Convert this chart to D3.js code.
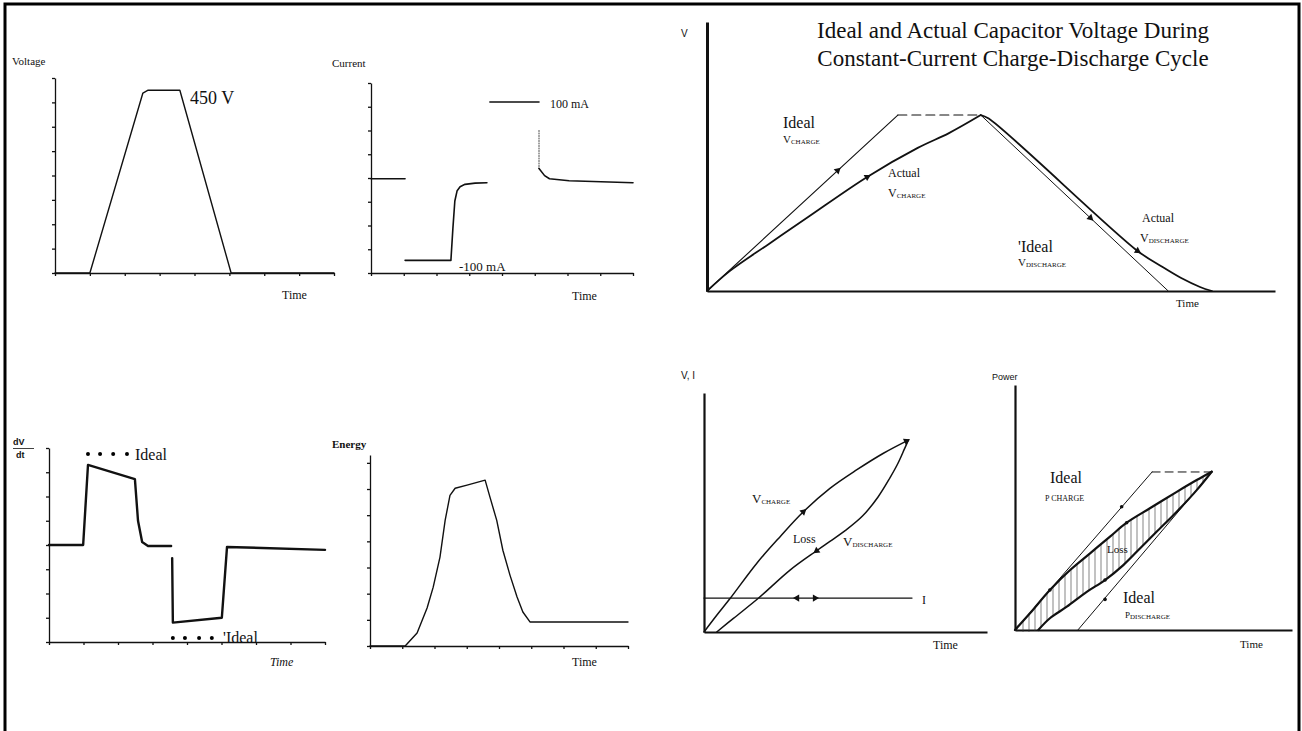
<!DOCTYPE html>
<html>
<head>
<meta charset="utf-8">
<script src="https://cdn.jsdelivr.net/npm/d3@7"></script>
<style>
  body { margin: 0; background: #fff; }
  svg { display: block; font-family: "Liberation Serif", "Times New Roman", serif; fill: #111; }
  .trace { fill: none; stroke: #111; stroke-linejoin: round; stroke-linecap: round; }
  .axis path, .axis line { stroke: #111; }
  .sans { font-family: "Liberation Sans", Arial, sans-serif; }
</style>
</head>
<body>
<div id="chart"></div>
<script>
// ---------- data (time in axis divisions / percent of axis, values in panel units) ----------

// Voltage panel
const voltTime = [0, 1, 2.52, 2.67, 3.58, 5.05, 8];
const voltValue = [0, 0, 443, 450, 450, 0, 0];

// Current panel (NaN = break in trace)
const currTime = [0, 1.04, NaN, 1.04, 2.44, 2.5, 2.56, 2.63, 2.72, 2.87, 3.18, 3.54, NaN, 3.63, 5.13, NaN, 5.13, 5.3, 5.45, 6.05, 8];
const currValue = [3, 3, NaN, -100, -100, -60, -25, -12, -7, -4, -2.5, -2, NaN, 100, 100, NaN, 16, 7, 3, 0.5, -2];
const currDropTime = [5.13, 5.13];
const currDropValue = [64, 16];

// dV/dt panel
const dvdtTime = [0, 0.99, 1.13, 2.49, 2.58, 2.70, 2.87, 3.54, NaN, 3.57, 3.59, 5.01, 5.16, 8];
const dvdtValue = [0, 0, 3.3, 2.72, 1.0, 0.12, -0.04, -0.04, NaN, -0.54, -3.2, -3.0, -0.08, -0.2];
const idealDotTime = [1.13, 1.48, 1.86, 2.26, 3.59, 3.94, 4.35, 4.72];
const idealDotValue = [3.75, 3.75, 3.75, 3.75, -3.83, -3.83, -3.83, -3.83];

// Energy panel
const energyTime = [0, 1.09, 1.46, 1.77, 1.96, 2.17, 2.33, 2.48, 2.64, 3.01, 3.57, 3.72, 3.93, 4.12, 4.34, 4.56, 4.74, 4.96, 8];
const energyValue = [0, 0, 0.5, 1.45, 2.25, 3.4, 4.8, 5.76, 6.03, 6.15, 6.34, 5.69, 4.8, 3.66, 2.71, 1.87, 1.3, 0.92, 0.92];

// Ideal vs actual capacitor voltage
const idealChargeT = [0, 33.6];
const idealChargeV = [0, 65.4];
const idealFlatT = [33.6, 48.2];
const idealFlatV = [65.4, 65.4];
const idealDischT = [48.2, 81.2];
const idealDischV = [65.4, 0];
const actualChargeT = [0, 4.0, 10.9, 17.8, 28.2, 37.1, 42.6, 48.2];
const actualChargeV = [0, 7.4, 17.5, 27.5, 42.4, 53.2, 58.7, 65.4];
const actualDischT = [48.2, 49.6, 75.8, 79.9, 83.4, 86.8, 88.9];
const actualDischV = [65.4, 64.1, 14.9, 9.3, 4.9, 1.5, 0];
const capArrows = [[23, 44.8, 33.6, 65.4], [28.2, 42.4, 37.1, 53.2], [67.5, 27.2, 81.2, 0], [75.8, 14.9, 79.9, 9.3]];

// V, I panel
const iLevelT = [0, 73.5];
const iLevelV = [14.2, 14.2];
const vChargeT = [0, 4.5, 9.2, 18.6, 26.9, 35.1, 44.5, 53.9, 63.4, 72.2];
const vChargeV = [0, 7, 14, 28.7, 39.9, 50.3, 60.1, 67.8, 74.8, 80.3];
const vDischT = [72.2, 70.8, 68.5, 65.7, 61.5, 56, 50, 44.5, 39.8, 30.4, 19.2, 10.4, 4.5];
const vDischV = [80.3, 76.5, 70.5, 64.5, 56.5, 48.5, 42.5, 37.9, 34.0, 25.9, 14.1, 5.7, 0];
const viArrows = [[71.5, 79.9, 72.2, 80.3], [35.1, 50.3, 44.5, 60.1], [39.8, 34.0, 30.4, 25.9], [32.9, 14.2, 0, 14.2], [39.2, 14.2, 73.5, 14.2]];

// Power panel
const pIdealChargeT = [0, 49.5];
const pIdealChargeV = [0, 64.5];
const pIdealFlatT = [49.5, 71.1];
const pIdealFlatV = [64.5, 64.5];
const pIdealDischT = [71.1, 22.7];
const pIdealDischV = [64.5, 0];
const pChargeT = [0, 5.4, 12.6, 19.9, 27.1, 34.3, 40.3, 48.7, 58.4, 65.6, 71];
const pChargeV = [0, 6.8, 16.3, 24.5, 31.3, 38.1, 43.8, 49.7, 56.4, 61.2, 64.6];
const pDischT = [71, 65.6, 58.4, 51.1, 45.1, 39.1, 32.5, 25.9, 18.7, 12.6, 8.4];
const pDischV = [64.6, 57.1, 48.3, 40.1, 33.3, 26.5, 20.4, 15.6, 9.5, 4.8, 0];
const pDotT = [38.5, 40.3, 32.5, 32.5, 12.6];
const pDotV = [50.3, 43.8, 20.4, 12.5, 16.3];

// ---------- drawing ----------

const svg = d3.select("#chart").append("svg")
    .attr("width", 1302)
    .attr("height", 731);

// hatch used for the loss region
svg.append("defs").append("pattern")
    .attr("id", "hatch")
    .attr("patternUnits", "userSpaceOnUse")
    .attr("width", 6)
    .attr("height", 6)
    .append("line")
    .attr("x1", 3).attr("y1", 0).attr("x2", 3).attr("y2", 6)
    .style("stroke", "#333")
    .style("stroke-width", 0.6);

// page frame
svg.append("rect")
    .attr("x", 5).attr("y", 4)
    .attr("width", 1294).attr("height", 800)
    .style("fill", "none")
    .style("stroke", "#000")
    .style("stroke-width", 3);

const pairs = (xs, ys) => xs.map((x, i) => [x, ys[i]]);

// A panel with its own scales and two bare axes.
function makePanel(box, xDomain, yDomain, xTicks, yTicks, axisWidth) {
    const x = d3.scaleLinear().domain(xDomain).range([box.left, box.right]);
    const y = d3.scaleLinear().domain(yDomain).range([box.bottom, box.top]);
    const g = svg.append("g");

    g.append("g")
        .attr("class", "axis")
        .attr("transform", "translate(0," + box.bottom + ")")
        .call(d3.axisBottom(x).tickValues(xTicks).tickSize(3).tickSizeOuter(0).tickFormat(""))
        .selectAll("path, line").style("stroke-width", axisWidth[0]);

    g.append("g")
        .attr("class", "axis")
        .attr("transform", "translate(" + box.left + ",0)")
        .call(d3.axisLeft(y).tickValues(yTicks).tickSize(3).tickSizeOuter(0).tickFormat(""))
        .selectAll("path, line").style("stroke-width", axisWidth[1]);

    return {x, y, g};
}

function trace(p, xs, ys, width, curve, dash) {
    const gen = d3.line()
        .defined(d => !isNaN(d[1]))
        .x(d => p.x(d[0]))
        .y(d => p.y(d[1]))
        .curve(curve || d3.curveLinear);
    p.g.append("path")
        .attr("class", "trace")
        .attr("d", gen(pairs(xs, ys)))
        .style("stroke-width", width)
        .style("stroke-dasharray", dash || null);
}

function arrowHead(p, a) {
    const x1 = p.x(a[0]), y1 = p.y(a[1]);
    const ang = Math.atan2(p.y(a[3]) - y1, p.x(a[2]) - x1) * 180 / Math.PI + 90;
    p.g.append("path")
        .attr("d", d3.symbol(d3.symbolTriangle, 22)())
        .attr("transform", "translate(" + x1 + "," + y1 + ") rotate(" + ang + ")")
        .style("fill", "#111");
}

function label(txt, x, y, size, cls) {
    return svg.append("text")
        .attr("x", x).attr("y", y)
        .attr("class", cls || null)
        .style("font-size", size + "px")
        .text(txt);
}

// main letter followed by a small-caps subscript
function subLabel(main, sub, x, y, size, subSize) {
    const t = label(main, x, y, size);
    t.append("tspan").attr("dy", 1).style("font-size", subSize + "px").text(sub);
}

// --- Voltage ---
const volt = makePanel({left: 55, right: 334, bottom: 273, top: 78}, [0, 8], [0, 480],
    d3.range(0, 9), d3.range(0, 481, 60), [1.3, 1.3]);
trace(volt, voltTime, voltValue, 1.4);
label("Voltage", 12, 65, 11);
label("450 V", 190, 104, 18);
label("Time", 282, 299, 12);

// --- Current ---
const curr = makePanel({left: 371, right: 633, bottom: 273, top: 83}, [0, 8], [-116, 124],
    d3.range(0, 9), d3.range(-116, 125, 30), [1.3, 1.3]);
trace(curr, currTime, currValue, 1.6);
trace(curr, currDropTime, currDropValue, 0.8, null, "1,1.5");
label("Current", 332, 67, 11);
label("100 mA", 550, 108, 12);
label("-100 mA", 459, 271, 13);
label("Time", 572, 300, 12);

// --- dV/dt ---
const dvdt = makePanel({left: 49, right: 325, bottom: 642, top: 448}, [0, 8], [-4, 4],
    d3.range(0, 9), d3.range(-4, 5), [1.3, 1.3]);
trace(dvdt, dvdtTime, dvdtValue, 2.4);
dvdt.g.selectAll("circle")
    .data(pairs(idealDotTime, idealDotValue))
    .join("circle")
    .attr("cx", d => dvdt.x(d[0]))
    .attr("cy", d => dvdt.y(d[1]))
    .attr("r", 2)
    .style("fill", "#000");
label("Ideal", 135, 460, 16);
label("'Ideal", 223, 643, 16);
label("dV", 13, 445, 9, "sans").style("font-weight", "bold");
svg.append("line").attr("x1", 13).attr("x2", 34).attr("y1", 448.5).attr("y2", 448.5)
    .style("stroke", "#111").style("stroke-width", 0.8);
label("dt", 16, 458, 9, "sans").style("font-weight", "bold");
label("Time", 270, 666, 12).style("font-style", "italic");

// --- Energy ---
const energy = makePanel({left: 370, right: 628, bottom: 646, top: 455}, [0, 8], [0, 7.3],
    d3.range(0, 9), d3.range(0, 8), [1.3, 1.3]);
trace(energy, energyTime, energyValue, 1.4);
label("Energy", 332, 448, 11).style("font-weight", "bold");
label("Time", 572, 666, 12);

// --- Ideal and actual capacitor voltage ---
const cap = makePanel({left: 707, right: 1275, bottom: 291, top: 22}, [0, 100], [0, 100],
    [], [], [2, 3]);
trace(cap, idealChargeT, idealChargeV, 1.1);
trace(cap, idealFlatT, idealFlatV, 1.1, null, "9,5");
trace(cap, idealDischT, idealDischV, 1);
trace(cap, actualChargeT, actualChargeV, 1.8, d3.curveCatmullRom);
trace(cap, actualDischT, actualDischV, 1.8, d3.curveCatmullRom);
capArrows.forEach(a => arrowHead(cap, a));
label("V", 681, 37, 10, "sans");
label("Ideal and Actual Capacitor Voltage During", 1013, 38, 23).attr("text-anchor", "middle");
label("Constant-Current Charge-Discharge Cycle", 1013, 66, 23).attr("text-anchor", "middle");
label("Ideal", 783, 128, 16);
subLabel("V", "CHARGE", 783, 143, 11, 7);
label("Actual", 888, 177, 12);
subLabel("V", "CHARGE", 888, 197, 12, 7);
label("Actual", 1142, 222, 12);
subLabel("V", "DISCHARGE", 1140, 242, 12, 7);
label("'Ideal", 1018, 252, 16);
subLabel("V", "DISCHARGE", 1018, 266, 11, 7);
label("Time", 1176, 307, 11);

// --- V, I ---
const vi = makePanel({left: 704, right: 987, bottom: 632, top: 393}, [0, 100], [0, 100],
    [], [], [1.8, 2.2]);
trace(vi, iLevelT, iLevelV, 1.3);
trace(vi, vChargeT, vChargeV, 1.5, d3.curveCatmullRom);
trace(vi, vDischT, vDischV, 1.5, d3.curveCatmullRom);
viArrows.forEach(a => arrowHead(vi, a));
label("V, I", 681, 379, 10, "sans");
subLabel("V", "CHARGE", 752, 503, 13, 7);
label("Loss", 793, 543, 12);
subLabel("V", "DISCHARGE", 843, 546, 13, 7);
label("I", 922, 604, 12);
label("Time", 933, 649, 12);

// --- Power ---
const pow = makePanel({left: 1015, right: 1292, bottom: 630, top: 385}, [0, 100], [0, 100],
    [], [], [1.8, 2.2]);
// loss region between actual charge and discharge power
pow.g.append("path")
    .attr("d", d3.line().x(d => pow.x(d[0])).y(d => pow.y(d[1]))
        .curve(d3.curveCatmullRomClosed)(pairs(pChargeT, pChargeV).concat(pairs(pDischT, pDischV).slice(1))))
    .style("fill", "url(#hatch)")
    .style("stroke", "none");
trace(pow, pIdealChargeT, pIdealChargeV, 1);
trace(pow, pIdealFlatT, pIdealFlatV, 1, null, "8,5");
trace(pow, pIdealDischT, pIdealDischV, 1);
trace(pow, pChargeT, pChargeV, 2.2, d3.curveCatmullRom);
trace(pow, pDischT, pDischV, 2.2, d3.curveCatmullRom);
pow.g.selectAll("circle")
    .data(pairs(pDotT, pDotV))
    .join("circle")
    .attr("cx", d => pow.x(d[0]))
    .attr("cy", d => pow.y(d[1]))
    .attr("r", 1.8)
    .style("fill", "#111");
label("Power", 992, 380, 9, "sans");
label("Ideal", 1050, 483, 16);
label("P CHARGE", 1045, 501, 8);
label("Loss", 1107, 553, 11);
label("Ideal", 1123, 603, 16);
subLabel("P", "DISCHARGE", 1125, 618, 9, 7);
label("Time", 1240, 648, 11);
</script>
</body>
</html>
